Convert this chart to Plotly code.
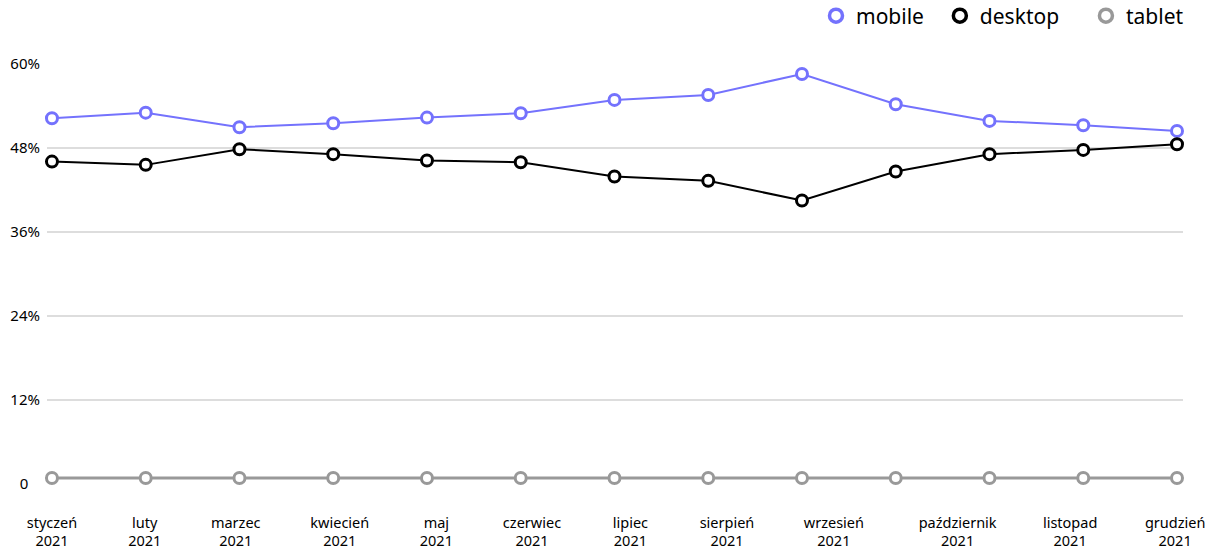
import plotly.graph_objects as go

# ---- data ----
periods = list(range(13))  # 13 equally spaced reporting periods
mobile = [52.25, 53.05, 50.97, 51.54, 52.34, 52.97, 54.87, 55.58, 58.58, 54.25, 51.87, 51.26, 50.44]
desktop = [46.06, 45.59, 47.83, 47.12, 46.22, 45.97, 43.92, 43.31, 40.50, 44.64, 47.12, 47.73, 48.54]
tablet = [0.85, 0.85, 0.85, 0.85, 0.85, 0.85, 0.85, 0.85, 0.85, 0.85, 0.85, 0.85, 0.85]

month_labels = ["styczeń", "luty", "marzec", "kwiecień", "maj", "czerwiec",
                "lipiec", "sierpień", "wrzesień", "październik", "listopad", "grudzień"]
year_label = "2021"
y_ticks = [0, 12, 24, 36, 48, 60]
y_tick_text = ["0\u00a0\u00a0\u00a0", "12%", "24%", "36%", "48%", "60%"]

# label positions along the period axis (as in the reference)
label_pos = [0.0, 0.99, 1.96, 3.07, 4.10, 5.12, 6.17, 7.20, 8.34, 9.66, 10.86, 11.98]

series = [("mobile", mobile, "#7472fd", 2),
          ("desktop", desktop, "#000000", 2),
          ("tablet", tablet, "#999999", 3)]

FONT = "Noto Sans"
legend_pad = ["\u00a0\u00a0", "\u00a0\u00a0\u00a0\u00a0", ""]
fig = go.Figure()
for name, vals, color, lw in series:
    fig.add_trace(go.Scatter(
        x=periods, y=vals, mode="lines+markers", name=name, showlegend=False,
        line=dict(color=color, width=lw),
        marker=dict(symbol="circle", size=11, color="white",
                    line=dict(color=color, width=3)),
        cliponaxis=False, hoverinfo="skip"))
for (name, vals, color, lw), pad in zip(series, legend_pad):
    fig.add_trace(go.Scatter(
        x=[None], y=[None], mode="markers", name=name + pad, showlegend=True,
        marker=dict(symbol="circle", size=13, color="white",
                    line=dict(color=color, width=3.5))))

fig.update_layout(
    width=1206, height=553,
    margin=dict(l=47, r=23, t=64, b=69, pad=0, autoexpand=False),
    paper_bgcolor="white", plot_bgcolor="white",
    font=dict(family=FONT, color="#000000", size=13),
    showlegend=True,
    legend=dict(orientation="h", x=0.9859, xanchor="right", xref="container",
                y=0.971, yanchor="middle", yref="container",
                font=dict(size=21, family=FONT, color="#000"),
                itemwidth=30, bgcolor="rgba(0,0,0,0)"),
    xaxis=dict(range=[-0.053, 12.064], showgrid=False, zeroline=False,
               showline=False, tickmode="array", tickvals=label_pos,
               ticktext=[f"{m}<br>{year_label}" for m in month_labels],
               ticks="", ticklabelstandoff=28,
               tickfont=dict(size=14.5, family=FONT, color="#000")),
    yaxis=dict(range=[0, 60], showgrid=True, gridcolor="#dddddd", gridwidth=1.5,
               zeroline=False, showline=False, tickmode="array",
               tickvals=y_ticks, ticktext=y_tick_text, ticks="",
               ticklabelstandoff=6,
               tickfont=dict(size=15, family=FONT, color="#000")),
)
fig.write_html("out.html")
